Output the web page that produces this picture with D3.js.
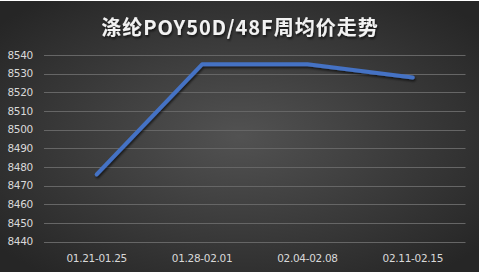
<!DOCTYPE html>
<html>
<head>
<meta charset="utf-8">
<script src="https://cdn.jsdelivr.net/npm/d3@7"></script>
<style>
  body { margin: 0; background: #fff; }
  svg { display: block; }
</style>
</head>
<body>
<div id="chart"></div>
<script>
// chart data
const TITLE = "涤纶POY50D/48F周均价走势";
const weeks = ["01.21-01.25", "01.28-02.01", "02.04-02.08", "02.11-02.15"];
const prices = [8476, 8535, 8535, 8528];
const yTicks = [8440, 8450, 8460, 8470, 8480, 8490, 8500, 8510, 8520, 8530, 8540];

var width = 481,
    height = 275;

const margin = {left: 44, top: 55, right: 15, bottom: 33};

const svg = d3.select('#chart')
    .append('svg')
    .attr('width', width)
    .attr('height', height);

const defs = svg.append("defs");

var bg = defs.append("radialGradient")
    .attr("id", "bg")
    .attr("cx", "50%").attr("cy", "50%").attr("r", "65%");
bg.append("stop").attr("offset", "0%").attr("stop-color", "#525252");
bg.append("stop").attr("offset", "100%").attr("stop-color", "#262626");

var shadow = defs.append("filter").attr("id", "shadow")
    .attr("x", "-20%").attr("y", "-20%").attr("width", "140%").attr("height", "140%");
shadow.append("feDropShadow")
    .attr("dx", 1).attr("dy", 2).attr("stdDeviation", 1.2)
    .attr("flood-color", "#000").attr("flood-opacity", 0.6);

// chart area
svg.append("rect")
    .attr("x", 0).attr("y", 1)
    .attr("width", 479).attr("height", 271)
    .attr("fill", "url(#bg)");

var x = d3.scaleBand()
    .domain(weeks)
    .range([margin.left, 465.5]);

var y = d3.scaleLinear()
    .domain([8440, 8540])
    .range([241.7, margin.top]);

// gridlines
svg.append("g")
    .selectAll("line")
    .data(yTicks)
    .enter().append("line")
    .attr("x1", margin.left)
    .attr("x2", 465.5)
    .attr("y1", d => Math.round(y(d)) + 0.5)
    .attr("y2", d => Math.round(y(d)) + 0.5)
    .attr("stroke", "#666")
    .attr("stroke-width", 1);

// y axis labels
svg.append("g")
    .selectAll("text")
    .data(yTicks)
    .enter().append("text")
    .attr("x", 33)
    .attr("y", d => y(d))
    .attr("dy", "0.35em")
    .attr("text-anchor", "end")
    .attr("font-family", "DejaVu Sans, sans-serif")
    .attr("font-size", 10.5)
    .attr("letter-spacing", -0.3)
    .attr("fill", "#d9d9d9")
    .text(d => d);

// x axis labels
svg.append("g")
    .selectAll("text")
    .data(weeks)
    .enter().append("text")
    .attr("x", d => x(d) + x.bandwidth() / 2)
    .attr("y", 258)
    .attr("dy", "0.35em")
    .attr("text-anchor", "middle")
    .attr("font-family", "DejaVu Sans, sans-serif")
    .attr("font-size", 10.5)
    .attr("letter-spacing", -0.3)
    .attr("fill", "#d9d9d9")
    .text(d => d);

// the price line
var line = d3.line()
    .x((d, i) => x(weeks[i]) + x.bandwidth() / 2)
    .y(d => y(d));

svg.append("path")
    .datum(prices)
    .attr("d", line)
    .attr("fill", "none")
    .attr("stroke", "#4472c4")
    .attr("stroke-width", 4)
    .attr("stroke-linecap", "round")
    .attr("stroke-linejoin", "round")
    .attr("filter", "url(#shadow)");

// title
svg.append("text")
    .attr("x", 240)
    .attr("y", 28)
    .attr("dy", "0.35em")
    .attr("text-anchor", "middle")
    .attr("font-family", "Noto Sans CJK SC, sans-serif")
    .attr("font-weight", "bold")
    .attr("font-size", 20)
    .attr("letter-spacing", 1)
    .attr("fill", "#f2f2f2")
    .attr("filter", "url(#shadow)")
    .text(TITLE);
</script>
</body>
</html>
